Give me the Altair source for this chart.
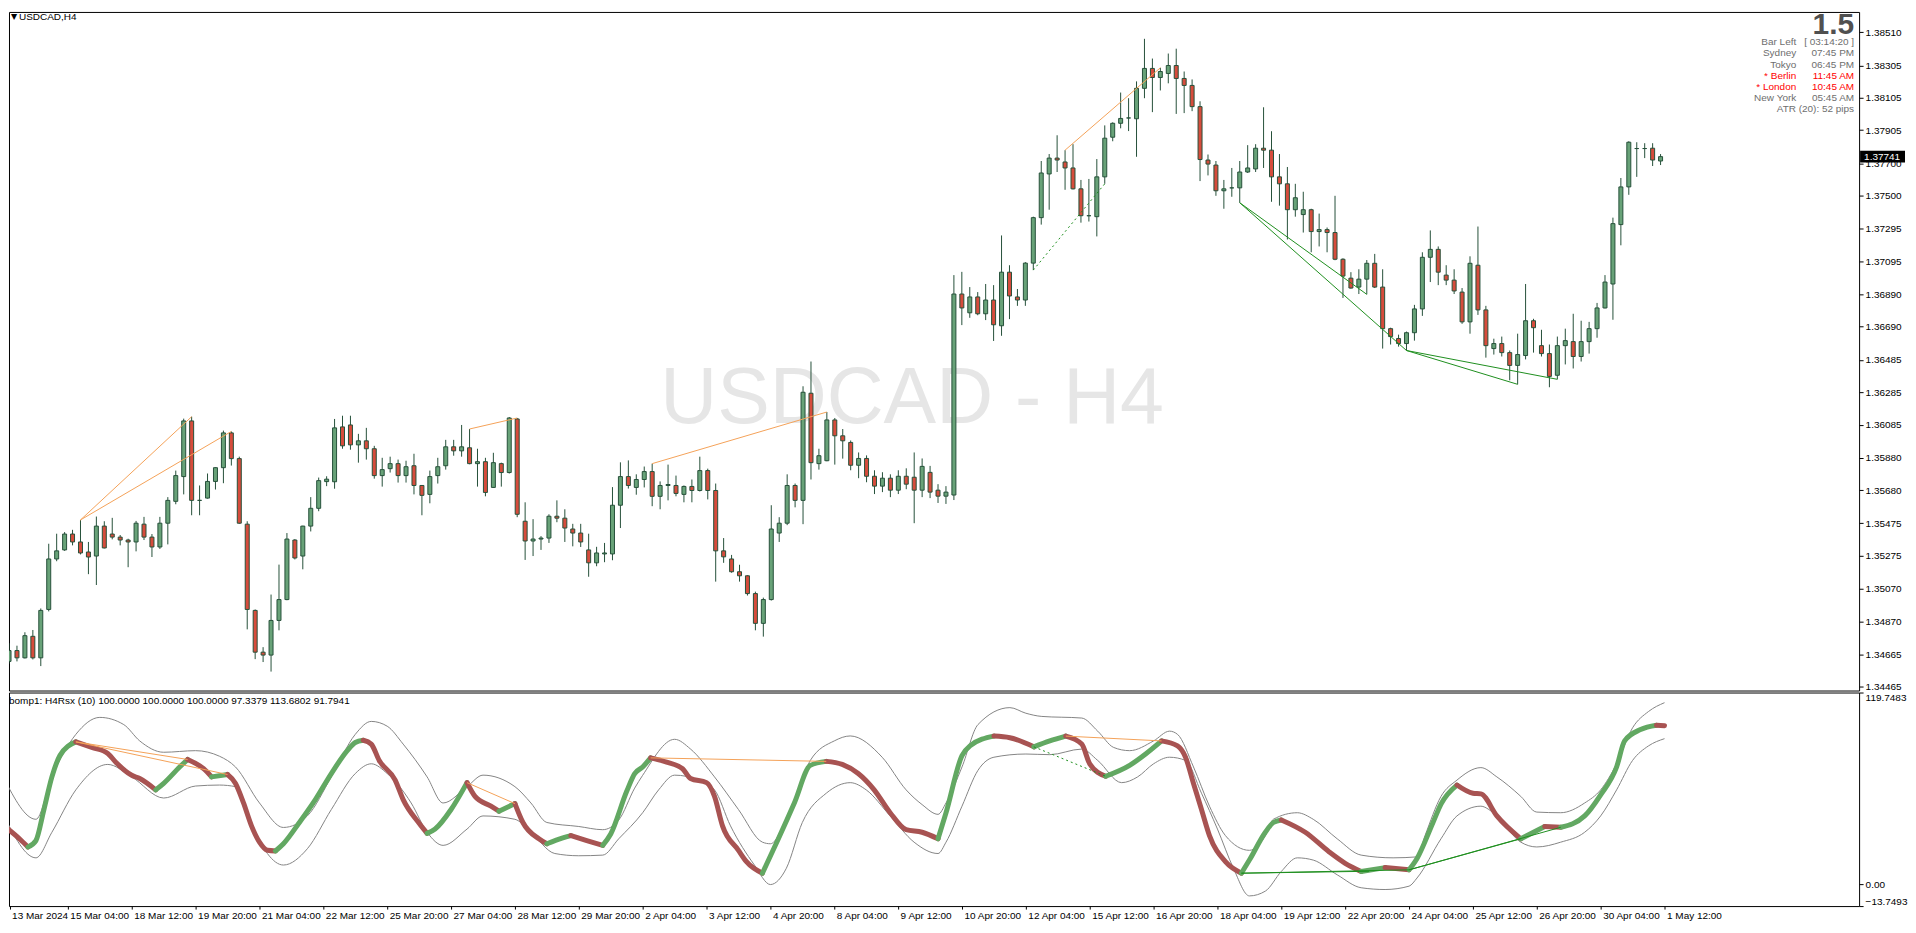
import json
import pandas as pd
import altair as alt

# ---------------- USDCAD H4 candles (bar 0 = 13 Mar 2024 20:00) ----------------
opens = [
    1.34622, 1.34689, 1.34644, 1.34777, 1.34644, 1.34943, 1.35255, 1.35311, 1.35409, 1.35360,
    1.35298, 1.35273, 1.35458, 1.35409, 1.35390, 1.35372, 1.35360, 1.35470, 1.35390, 1.35329,
    1.35476, 1.35611, 1.35764, 1.36108, 1.35617, 1.35631, 1.35734, 1.35819, 1.36034, 1.35875,
    1.35470, 1.34937, 1.34679, 1.34661, 1.34875, 1.35004, 1.35372, 1.35273, 1.35458, 1.35568,
    1.35733, 1.35732, 1.36071, 1.36083, 1.35960, 1.35985, 1.35936, 1.35770, 1.35813, 1.35844,
    1.35770, 1.35831, 1.35709, 1.35654, 1.35770, 1.35831, 1.35948, 1.35923, 1.35942, 1.35844,
    1.35856, 1.35697, 1.35844, 1.35789, 1.36120, 1.35488, 1.35366, 1.35378, 1.35384, 1.35519,
    1.35507, 1.35440, 1.35415, 1.35311, 1.35231, 1.35286, 1.35286, 1.35587, 1.35764, 1.35697,
    1.35746, 1.35795, 1.35642, 1.35709, 1.35709, 1.35654, 1.35703, 1.35678, 1.35801, 1.35678,
    1.35305, 1.35255, 1.35176, 1.35151, 1.35041, 1.34857, 1.35004, 1.35415, 1.35476, 1.35709,
    1.35617, 1.36279, 1.35844, 1.35862, 1.36114, 1.36016, 1.35975, 1.35834, 1.35876, 1.35766,
    1.35705, 1.35754, 1.35680, 1.35766, 1.35760, 1.35680, 1.35790, 1.35680, 1.35643, 1.35650,
    1.36892, 1.36776, 1.36874, 1.36770, 1.36855, 1.36696, 1.37027, 1.36874, 1.36855, 1.37083,
    1.37364, 1.37634, 1.37732, 1.37708, 1.37671, 1.37542, 1.37376, 1.37370, 1.37616, 1.37861,
    1.37947, 1.37980, 1.37975, 1.38163, 1.38286, 1.38230, 1.38255, 1.38304, 1.38224, 1.38181,
    1.38050, 1.37720, 1.37689, 1.37530, 1.37548, 1.37548, 1.37646, 1.37665, 1.37793, 1.37781,
    1.37616, 1.37573, 1.37413, 1.37383, 1.37413, 1.37278, 1.37290, 1.37272, 1.37107, 1.36990,
    1.36935, 1.36984, 1.37082, 1.36935, 1.36678, 1.36617, 1.36586, 1.36653, 1.36800, 1.37119,
    1.37168, 1.37009, 1.36978, 1.36904, 1.36720, 1.37070, 1.36794, 1.36555, 1.36586, 1.36530,
    1.36451, 1.36512, 1.36727, 1.36573, 1.36524, 1.36390, 1.36573, 1.36598, 1.36506, 1.36598,
    1.36678, 1.36806, 1.36954, 1.37321, 1.37554, 1.37791, 1.37791, 1.37793, 1.37714,
]
highs = [
    1.34734, 1.34719, 1.34802, 1.34816, 1.34949, 1.35349, 1.35411, 1.35421, 1.35435, 1.35496,
    1.35360, 1.35517, 1.35488, 1.35509, 1.35403, 1.35380, 1.35490, 1.35515, 1.35409, 1.35515,
    1.35637, 1.35801, 1.36122, 1.36134, 1.35709, 1.35783, 1.35821, 1.36048, 1.36043, 1.35887,
    1.35488, 1.34943, 1.34710, 1.35035, 1.35220, 1.35415, 1.35378, 1.35460, 1.35637, 1.35758,
    1.35766, 1.36120, 1.36140, 1.36140, 1.36028, 1.36065, 1.35954, 1.35880, 1.35887, 1.35869,
    1.35862, 1.35905, 1.35712, 1.35801, 1.35880, 1.35991, 1.35991, 1.36083, 1.36058, 1.35936,
    1.35880, 1.35911, 1.35850, 1.36132, 1.36126, 1.35605, 1.35501, 1.35396, 1.35531, 1.35617,
    1.35562, 1.35472, 1.35472, 1.35411, 1.35330, 1.35354, 1.35699, 1.35852, 1.35864, 1.35778,
    1.35826, 1.35844, 1.35734, 1.35838, 1.35770, 1.35709, 1.35746, 1.35887, 1.35813, 1.35721,
    1.35384, 1.35280, 1.35219, 1.35154, 1.35053, 1.35016, 1.35587, 1.35513, 1.35778, 1.35721,
    1.36322, 1.36475, 1.35936, 1.36163, 1.36126, 1.36058, 1.35987, 1.35913, 1.35895, 1.35803,
    1.35791, 1.35778, 1.35803, 1.35815, 1.35913, 1.35876, 1.35830, 1.35717, 1.35705, 1.37009,
    1.37029, 1.36935, 1.36904, 1.36954, 1.36947, 1.37254, 1.37070, 1.36923, 1.37089, 1.37370,
    1.37714, 1.37757, 1.37873, 1.37781, 1.37818, 1.37597, 1.37603, 1.37726, 1.37934, 1.37953,
    1.38137, 1.38102, 1.38206, 1.38469, 1.38347, 1.38290, 1.38378, 1.38408, 1.38267, 1.38218,
    1.38083, 1.37754, 1.37714, 1.37597, 1.37671, 1.37714, 1.37812, 1.37818, 1.38046, 1.37898,
    1.37757, 1.37677, 1.37573, 1.37524, 1.37419, 1.37389, 1.37303, 1.37499, 1.37113, 1.37027,
    1.37045, 1.37102, 1.37140, 1.37045, 1.36684, 1.36641, 1.36660, 1.36825, 1.37150, 1.37285,
    1.37186, 1.37070, 1.37045, 1.36929, 1.37125, 1.37309, 1.36819, 1.36616, 1.36629, 1.36543,
    1.36647, 1.36954, 1.36739, 1.36671, 1.36580, 1.36629, 1.36678, 1.36770, 1.36727, 1.36720,
    1.36837, 1.37009, 1.37364, 1.37609, 1.37836, 1.37830, 1.37824, 1.37824, 1.37757,
]
lows = [
    1.34608, 1.34622, 1.34640, 1.34634, 1.34593, 1.34931, 1.35241, 1.35305, 1.35339, 1.35283,
    1.35161, 1.35094, 1.35320, 1.35376, 1.35339, 1.35204, 1.35302, 1.35372, 1.35267, 1.35317,
    1.35345, 1.35593, 1.35654, 1.35525, 1.35525, 1.35628, 1.35684, 1.35723, 1.35832, 1.35472,
    1.34820, 1.34636, 1.34618, 1.34559, 1.34814, 1.35000, 1.35252, 1.35191, 1.35425, 1.35550,
    1.35705, 1.35689, 1.35936, 1.35930, 1.35850, 1.35869, 1.35751, 1.35702, 1.35789, 1.35727,
    1.35727, 1.35654, 1.35525, 1.35599, 1.35721, 1.35807, 1.35893, 1.35887, 1.35840, 1.35702,
    1.35642, 1.35694, 1.35702, 1.35783, 1.35513, 1.35249, 1.35273, 1.35311, 1.35354, 1.35482,
    1.35360, 1.35333, 1.35329, 1.35145, 1.35210, 1.35235, 1.35247, 1.35446, 1.35690, 1.35652,
    1.35697, 1.35581, 1.35562, 1.35617, 1.35642, 1.35605, 1.35605, 1.35672, 1.35623, 1.35115,
    1.35231, 1.35170, 1.35115, 1.35029, 1.34814, 1.34775, 1.34998, 1.35360, 1.35464, 1.35574,
    1.35470, 1.35746, 1.35807, 1.35859, 1.35838, 1.35875, 1.35803, 1.35754, 1.35729, 1.35656,
    1.35668, 1.35637, 1.35656, 1.35686, 1.35476, 1.35637, 1.35631, 1.35601, 1.35595, 1.35619,
    1.36700, 1.36745, 1.36761, 1.36731, 1.36602, 1.36634, 1.36737, 1.36819, 1.36819, 1.37040,
    1.37321, 1.37413, 1.37646, 1.37536, 1.37538, 1.37333, 1.37340, 1.37248, 1.37573, 1.37836,
    1.37916, 1.37899, 1.37740, 1.38102, 1.38016, 1.38150, 1.38194, 1.38005, 1.38010, 1.38022,
    1.37590, 1.37625, 1.37499, 1.37419, 1.37493, 1.37456, 1.37640, 1.37646, 1.37671, 1.37462,
    1.37438, 1.37229, 1.37370, 1.37272, 1.37150, 1.37186, 1.37150, 1.37101, 1.36868, 1.36925,
    1.36892, 1.36890, 1.36929, 1.36555, 1.36580, 1.36567, 1.36543, 1.36604, 1.36757, 1.36966,
    1.36947, 1.36947, 1.36892, 1.36708, 1.36647, 1.36763, 1.36499, 1.36518, 1.36506, 1.36359,
    1.36334, 1.36488, 1.36530, 1.36506, 1.36316, 1.36365, 1.36457, 1.36432, 1.36475, 1.36524,
    1.36622, 1.36803, 1.36733, 1.37193, 1.37505, 1.37616, 1.37732, 1.37683, 1.37689,
]
closes = [
    1.34689, 1.34644, 1.34781, 1.34644, 1.34937, 1.35255, 1.35305, 1.35409, 1.35360, 1.35292,
    1.35267, 1.35458, 1.35323, 1.35390, 1.35372, 1.35360, 1.35476, 1.35390, 1.35329, 1.35476,
    1.35617, 1.35770, 1.36108, 1.35617, 1.35617, 1.35734, 1.35819, 1.36034, 1.35875, 1.35476,
    1.34943, 1.34679, 1.34661, 1.34875, 1.35004, 1.35378, 1.35261, 1.35458, 1.35568, 1.35739,
    1.35748, 1.36065, 1.35954, 1.35960, 1.35985, 1.35936, 1.35770, 1.35807, 1.35844, 1.35770,
    1.35825, 1.35709, 1.35648, 1.35764, 1.35825, 1.35948, 1.35923, 1.35948, 1.35844, 1.35856,
    1.35666, 1.35850, 1.35789, 1.36126, 1.35531, 1.35366, 1.35378, 1.35384, 1.35519, 1.35507,
    1.35446, 1.35415, 1.35360, 1.35231, 1.35292, 1.35292, 1.35587, 1.35764, 1.35709, 1.35746,
    1.35795, 1.35642, 1.35709, 1.35715, 1.35660, 1.35703, 1.35678, 1.35801, 1.35678, 1.35305,
    1.35268, 1.35176, 1.35151, 1.35041, 1.34857, 1.35004, 1.35440, 1.35476, 1.35709, 1.35617,
    1.36285, 1.35850, 1.35893, 1.36114, 1.36016, 1.35985, 1.35834, 1.35876, 1.35766, 1.35705,
    1.35754, 1.35680, 1.35766, 1.35717, 1.35680, 1.35827, 1.35668, 1.35643, 1.35668, 1.36892,
    1.36806, 1.36874, 1.36770, 1.36855, 1.36702, 1.37027, 1.36880, 1.36855, 1.37083, 1.37364,
    1.37640, 1.37732, 1.37720, 1.37671, 1.37542, 1.37376, 1.37376, 1.37616, 1.37855, 1.37947,
    1.37977, 1.37980, 1.38163, 1.38286, 1.38230, 1.38267, 1.38304, 1.38224, 1.38181, 1.38050,
    1.37723, 1.37695, 1.37530, 1.37542, 1.37548, 1.37646, 1.37671, 1.37793, 1.37781, 1.37616,
    1.37573, 1.37413, 1.37487, 1.37413, 1.37278, 1.37290, 1.37272, 1.37107, 1.37003, 1.36929,
    1.36984, 1.37082, 1.36935, 1.36678, 1.36629, 1.36586, 1.36653, 1.36800, 1.37119, 1.37168,
    1.37027, 1.36978, 1.36911, 1.36720, 1.37082, 1.36794, 1.36573, 1.36586, 1.36530, 1.36451,
    1.36518, 1.36727, 1.36684, 1.36524, 1.36383, 1.36573, 1.36604, 1.36506, 1.36598, 1.36678,
    1.36806, 1.36966, 1.37327, 1.37554, 1.37830, 1.37791, 1.37791, 1.37720, 1.37741,
]

price_ticks = [1.38510, 1.38305, 1.38105, 1.37905, 1.37700, 1.37500, 1.37295, 1.37095,
               1.36890, 1.36690, 1.36485, 1.36285, 1.36085, 1.35880, 1.35680, 1.35475,
               1.35275, 1.35070, 1.34870, 1.34665, 1.34465]

time_labels = ["13 Mar 2024", "15 Mar 04:00", "18 Mar 12:00", "19 Mar 20:00", "21 Mar 04:00",
               "22 Mar 12:00", "25 Mar 20:00", "27 Mar 04:00", "28 Mar 12:00", "29 Mar 20:00",
               "2 Apr 04:00", "3 Apr 12:00", "4 Apr 20:00", "8 Apr 04:00", "9 Apr 12:00",
               "10 Apr 20:00", "12 Apr 04:00", "15 Apr 12:00", "16 Apr 20:00", "18 Apr 04:00",
               "19 Apr 12:00", "22 Apr 20:00", "24 Apr 04:00", "25 Apr 12:00", "26 Apr 20:00",
               "30 Apr 04:00", "1 May 12:00"]
time_label_bars = [0.7] + [8 * k for k in range(1, 27)]

# ---------------- H4Rsx indicator (bar, value) ----------------
rsx_points = [
    (0, 36.4), (2, 28), (3, 23.2), (4, 27.2), (5, 46.6), (6, 67), (7, 80.3), (9, 88.9),
    (11, 85.4), (13, 81.7), (14, 76.2), (16, 68), (17, 66), (19, 58.9), (20, 63), (22, 73.2),
    (23, 77.9), (25, 72.1), (26, 67), (28, 68.5), (29, 62.9), (30, 50.7), (31, 36.4), (32, 26.2),
    (33, 21.1), (34, 20.7), (35, 25.2), (37, 38.5), (39, 52.8), (41, 69.1), (43, 83.4), (44, 88.5),
    (45, 89.9), (46, 87.5), (47, 77.3), (49, 65), (50, 52.8), (52, 38), (53, 31.7), (54, 34.4),
    (56, 46.6), (58, 63.4), (59, 54.8), (61, 48.7), (62, 45.6), (64, 50.3), (65, 38.5), (67, 28.3),
    (68, 25.2), (70, 28.9), (71, 30.3), (73, 27.2), (75, 24.2), (76, 31.3), (78, 58), (79, 69.1),
    (80, 73.2), (81, 78.9), (83, 76.2), (85, 72.1), (86, 66), (88, 63.4), (89, 54.8), (90, 36.4),
    (92, 21.1), (93, 14), (95, 6.8), (97, 28.3), (99, 50.7), (101, 74.2), (103, 76.7), (105, 74.8),
    (107, 69.1), (109, 58.9), (111, 44.6), (113, 34), (115, 32.4), (117, 28.3), (118, 44.6),
    (120, 80.3), (121, 86.4), (124, 92.5), (126, 91.5), (129, 85.8), (131, 89.5), (133, 92.5),
    (135, 87.5), (136, 75.2), (138, 67.4), (141, 74.2), (143, 81.3), (145, 89.5), (147, 86.4),
    (148, 79.3), (149, 62.9), (150, 46.6), (151, 30.3), (153, 14), (155, 6.8), (156, 15),
    (158, 32.4), (159, 38.5), (160, 40.1), (163, 32.4), (166, 20.1), (168, 13), (170, 7.9),
    (173, 10.3), (176, 8.9), (177, 16), (179, 38.5), (180, 50), (182, 61.9), (184, 56.8),
    (185, 56.4), (187, 42.6), (190, 28.3), (193, 36), (195, 35.5), (198, 42.6), (200, 55.8),
    (202, 73.2), (203, 89.5), (205, 96.6), (207, 99.3), (208, 99.0),
]
upper_band = [
    (0, 66), (4, 40.5), (6, 67), (9, 93.6), (12, 104.2), (15, 99.7), (17, 89.5), (20, 82.4),
    (24, 83.4), (27, 79.9), (29, 73.2), (32, 50.7), (35, 35.4), (38, 42.6), (41, 67), (44, 93.6),
    (46, 101.7), (48, 98.7), (50, 87.5), (53, 67), (55, 50.7), (58, 60.9), (60, 68.1), (64, 60.9),
    (66, 50.7), (68, 38.5), (72, 36), (75, 34), (77, 40), (79, 60), (80, 68), (84, 90.5),
    (86, 84.4), (89, 67), (92, 46.6), (95, 26.2), (96, 25.2), (98, 40.5), (101, 77.3), (104, 89.5),
    (106, 92.6), (110, 79.3), (113, 58.9), (115, 49.7), (117, 43.6), (118, 50.7), (120, 73.2),
    (122, 99.7), (126, 110.3), (128, 106.8), (130, 104.8), (135, 103.8), (137, 95.6), (139, 85.4),
    (141, 83.4), (144, 89.5), (146, 95.6), (147, 93.6), (149, 73.2), (151, 48.7), (153, 30.3),
    (156, 21.1), (158, 30.3), (159, 40.5), (162, 44.6), (164, 40.5), (167, 28.3), (170, 18.1),
    (174, 16.4), (177, 17), (178, 30.3), (180, 54.8), (182, 65), (185, 72.8), (187, 67),
    (190, 54.8), (192, 45), (195, 44.6), (198, 50.7), (200, 58.9), (202, 75.2), (204, 97.7),
    (206, 107.9), (208, 113.4),
]
lower_band = [
    (0, 42.6), (4, 16.4), (6, 32.4), (9, 58.9), (13, 74.8), (16, 67), (20, 53.8), (24, 61.3),
    (27, 61.9), (29, 60.9), (31, 36.4), (35, 11.9), (38, 22.1), (41, 46.6), (44, 69.1), (46, 75.2),
    (48, 69.1), (51, 50.7), (53, 32.4), (55, 24.2), (58, 34.4), (60, 42.6), (64, 40.5), (66, 32.4),
    (69, 19.1), (72, 17.7), (75, 18.1), (77, 28.3), (80, 44.6), (82, 58.9), (84, 68.1), (87, 65),
    (89, 58.9), (91, 36.4), (94, 11.9), (96, -0.3), (98, 9.9), (100, 38.5), (103, 56.8), (106, 63.4),
    (108, 58.9), (111, 42.6), (114, 26.2), (117, 19.1), (118, 26.2), (120, 48.7), (122, 71.1),
    (124, 79.3), (128, 81.3), (131, 80.9), (135, 84.4), (137, 77.3), (140, 63.4), (142, 67),
    (144, 75.2), (146, 79.3), (148, 77.3), (150, 56.8), (152, 34.4), (154, 9.9), (156, -7.4),
    (158, -4.4), (160, 7.9), (162, 16.4), (164, 15), (167, 5.8), (170, -2.3), (173, -3.4),
    (176, -1.3), (177, 3.8), (180, 28.3), (182, 42.6), (185, 48.7), (186, 46.6), (188, 36.4),
    (190, 26.2), (192, 23.2), (195, 26.2), (198, 32.4), (200, 42.6), (202, 58.9), (204, 77.3),
    (206, 86.4), (208, 90.9),
]

# ---------------- divergence lines ----------------
div_from = [9, 9, 58, 81, 133, 129, 155, 155, 176, 176]
div_to = [23, 28, 64, 103, 145, 138, 171, 176, 190, 195]
div_kind = ["bear", "bear", "bear", "bear", "bear", "hidden", "bull", "bull", "bull", "bull"]
div_rsx_from = [88.9, 88.9, 63.4, 78.9, 92.5, 85.8, 6.8, 6.8, 8.9, 8.9]
div_rsx_to = [77.9, 68.5, 50.3, 76.7, 89.5, 67.4, 8.0, 8.9, 28.3, 35.5]

# ---------------- texts ----------------
symbol_title = "USDCAD,H4"
watermark = "USDCAD - H4"
spread_text = "1.5"
info_labels = ["Bar Left", "Sydney", "Tokyo", "* Berlin", "* London", "New York"]
info_values = ["[ 03:14:20 ]", "07:45 PM", "06:45 PM", "11:45 AM", "10:45 AM", "05:45 AM"]
info_red = [False, False, False, True, True, False]
atr_text = "ATR (20): 52 pips"
indicator_header = "bomp1: H4Rsx (10) 100.0000 100.0000 100.0000 97.3379 113.6802 91.7941"

# ---------------- styling ----------------
FONT = "Liberation Sans"
GREEN_BODY = "#68a278"
RED_BODY = "#d64c3c"
OUTLINE = "#26503a"
RSX_UP = "#62a862"
RSX_DOWN = "#a85352"
ORANGE = "#f4a258"
DIV_GREEN = "#1f8f1f"
GRAY_TXT = "#6e6e6e"

W = 1854          # plot width (page x 8 .. 1862)
H_MAIN = 680
H_IND = 214

x_scale = alt.Scale(domain=[0.625, 0.625 + W / 8], nice=False, zero=False)
p_scale = alt.Scale(domain=[1.34442, 1.38635], nice=False, zero=False)
i_scale = alt.Scale(domain=[-13.7493, 119.7483], nice=False, zero=False)

p_axis = alt.Axis(orient="right", values=price_ticks, format=".5f", title=None, grid=False,
                  domain=False, ticks=True, tickColor="black", tickSize=4, labelPadding=2,
                  labelFont=FONT, labelFontSize=10, labelColor="black", labelOverlap=False)
i_axis = alt.Axis(orient="right", values=[-13.7493, 0, 119.7483],
                  labelExpr="datum.value == 0 ? '0.00' : format(datum.value, '.4f')",
                  title=None, grid=False, domain=False, tickColor="black", tickSize=4,
                  labelPadding=2, labelFont=FONT, labelFontSize=10, labelColor="black",
                  labelFlush=True, labelOverlap=False)
x_axis = alt.Axis(values=time_label_bars,
                  labelExpr=json.dumps(time_labels) + "[round(datum.value / 8)]",
                  labelAlign="left", labelOffset=2, labelPadding=1, tickSize=3, tickColor="black",
                  domain=False, grid=False, title=None, labelFont=FONT, labelFontSize=10,
                  labelColor="black", labelOverlap=False, labelFlush=False)

# ---------------- data frames ----------------
n = len(closes)
candles = pd.DataFrame({"bar": list(range(n)), "open": opens, "high": highs,
                        "low": lows, "close": closes})
candles["dir"] = ["up" if c >= o else "down" for o, c in zip(opens, closes)]

main_div = pd.DataFrame({
    "b1": div_from, "b2": div_to, "kind": div_kind,
    "p1": [highs[b] if k == "bear" else lows[b] for b, k in zip(div_from, div_kind)],
    "p2": [highs[b] if k == "bear" else lows[b] for b, k in zip(div_to, div_kind)],
    "v1": div_rsx_from, "v2": div_rsx_to,
})
solid_div = main_div[main_div["kind"] != "hidden"]
dotted_div = main_div[main_div["kind"] == "hidden"]

rb = [b for b, v in rsx_points]
rv = [v for b, v in rsx_points]
rsx_rows = []
run = 0
prev = None
for i in range(len(rb) - 1):
    d = "up" if rv[i + 1] > rv[i] else "down"
    if d != prev:
        run += 1
        rsx_rows.append({"bar": rb[i], "val": rv[i], "run": run, "dir": d})
        prev = d
    rsx_rows.append({"bar": rb[i + 1], "val": rv[i + 1], "run": run, "dir": d})
rsx_df = pd.DataFrame(rsx_rows)

bands_df = pd.DataFrame(
    [{"bar": b, "val": v, "band": "upper"} for b, v in upper_band]
    + [{"bar": b, "val": v, "band": "lower"} for b, v in lower_band]
)

dir_scale = alt.Scale(domain=["up", "down"], range=[GREEN_BODY, RED_BODY])


def txt(text, x, y, align="left", color="black", size=10, weight="normal",
        baseline="middle", font=FONT):
    return alt.Chart(pd.DataFrame({"t": [text]})).mark_text(
        align=align, baseline=baseline, color=color, fontSize=size, fontWeight=weight,
        font=font
    ).encode(x=alt.value(x), y=alt.value(y), text="t:N")


# ---------------- main price panel ----------------
layers = [txt(watermark, 905, 412, align="center", color="#e6e6e6", size=79,
              baseline="alphabetic")]

wicks = alt.Chart(candles).mark_rule(color=OUTLINE, strokeWidth=1, clip=True).encode(
    x=alt.X("bar:Q", scale=x_scale, axis=None),
    y=alt.Y("low:Q", scale=p_scale, axis=p_axis),
    y2="high:Q",
)
bodies = alt.Chart(candles).mark_bar(size=4, stroke=OUTLINE, strokeWidth=1, clip=True).encode(
    x=alt.X("bar:Q", scale=x_scale, axis=None),
    y=alt.Y("open:Q", scale=p_scale, axis=p_axis),
    y2="close:Q",
    fill=alt.Fill("dir:N", scale=dir_scale, legend=None),
)
main_solid = alt.Chart(solid_div).mark_rule(strokeWidth=1, clip=True).encode(
    x=alt.X("b1:Q", scale=x_scale, axis=None), x2="b2:Q",
    y=alt.Y("p1:Q", scale=p_scale, axis=p_axis), y2="p2:Q",
    color=alt.Color("kind:N", scale=alt.Scale(domain=["bear", "bull"], range=[ORANGE, DIV_GREEN]),
                    legend=None),
)
main_dotted = alt.Chart(dotted_div).mark_rule(strokeWidth=1, strokeDash=[2, 3], color=DIV_GREEN,
                                              clip=True).encode(
    x=alt.X("b1:Q", scale=x_scale, axis=None), x2="b2:Q",
    y=alt.Y("p1:Q", scale=p_scale, axis=p_axis), y2="p2:Q",
)
last_df = pd.DataFrame({"p": [closes[-1]]})
price_box = alt.Chart(last_df).transform_calculate(
    top="datum.p + 0.00037", bot="datum.p - 0.00037"
).mark_rect(color="black").encode(
    x=alt.value(W + 1), x2=alt.value(W + 46),
    y=alt.Y("top:Q", scale=p_scale, axis=p_axis), y2="bot:Q",
)
price_txt = alt.Chart(last_df).mark_text(align="left", baseline="middle", color="white",
                                         font=FONT, fontSize=10).encode(
    x=alt.value(W + 5),
    y=alt.Y("p:Q", scale=p_scale, axis=p_axis),
    text=alt.Text("p:Q", format=".5f"),
)

layers += [wicks, bodies, main_solid, main_dotted, price_box, price_txt]
layers.append(txt("\u25bc", 2, 5, align="left", size=8, font="DejaVu Sans"))
layers.append(txt(symbol_title, 10, 5, align="left", size=10))
layers.append(txt(spread_text, W - 5, 22, align="right", color="#505050", size=30,
                  weight="bold", baseline="alphabetic"))
for k, (lab, val, red) in enumerate(zip(info_labels, info_values, info_red)):
    col = "#ff0000" if red else GRAY_TXT
    y = 30.5 + 11.1 * k
    layers.append(txt(lab, W - 63, y, align="right", color=col))
    layers.append(txt(val, W - 5, y, align="right", color=col))
layers.append(txt(atr_text, W - 5, 30.5 + 11.1 * 6, align="right", color=GRAY_TXT))

main = alt.layer(*layers).properties(width=W, height=H_MAIN)

# ---------------- indicator panel ----------------
bands = alt.Chart(bands_df).mark_line(color="#858585", strokeWidth=1, interpolate="monotone",
                                      clip=True).encode(
    x=alt.X("bar:Q", scale=x_scale, axis=x_axis),
    y=alt.Y("val:Q", scale=i_scale, axis=i_axis),
    detail="band:N",
)
rsx = alt.Chart(rsx_df).mark_line(strokeWidth=5, interpolate="monotone", strokeCap="round",
                                  strokeJoin="round", clip=True).encode(
    x=alt.X("bar:Q", scale=x_scale, axis=x_axis),
    y=alt.Y("val:Q", scale=i_scale, axis=i_axis),
    detail="run:N",
    color=alt.Color("dir:N", scale=alt.Scale(domain=["up", "down"], range=[RSX_UP, RSX_DOWN]),
                    legend=None),
)
ind_solid = alt.Chart(solid_div).mark_rule(strokeWidth=1, clip=True).encode(
    x=alt.X("b1:Q", scale=x_scale, axis=x_axis), x2="b2:Q",
    y=alt.Y("v1:Q", scale=i_scale, axis=i_axis), y2="v2:Q",
    color=alt.Color("kind:N", scale=alt.Scale(domain=["bear", "bull"], range=[ORANGE, DIV_GREEN]),
                    legend=None),
)
ind_dotted = alt.Chart(dotted_div).mark_rule(strokeWidth=1, strokeDash=[2, 3], color=DIV_GREEN,
                                             clip=True).encode(
    x=alt.X("b1:Q", scale=x_scale, axis=x_axis), x2="b2:Q",
    y=alt.Y("v1:Q", scale=i_scale, axis=i_axis), y2="v2:Q",
)
header = txt(indicator_header, 0, 9, align="left", size=10)

ind = alt.layer(bands, rsx, ind_solid, ind_dotted, header).resolve_scale(
    color="independent").properties(width=W, height=H_IND)
main = main.resolve_scale(color="independent", fill="independent")

chart = alt.vconcat(main, ind, spacing=2, bounds="flush").properties(
    padding=0, background="white"
).configure_view(stroke="black", strokeWidth=1)

chart.save("out.html", embed_options={"renderer": "svg", "actions": False})
